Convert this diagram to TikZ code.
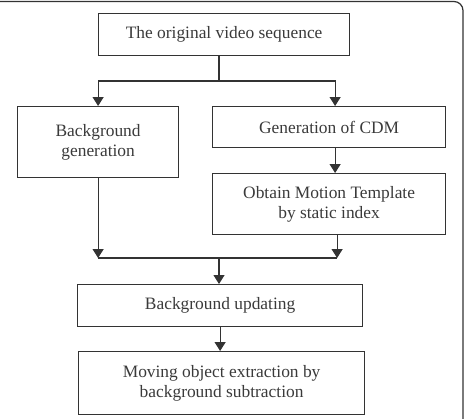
\documentclass[tikz,border=0pt]{standalone}
\usepackage{fontspec}
\setmainfont{Liberation Serif}
\usetikzlibrary{arrows.meta, positioning, calc}
\definecolor{flowline}{HTML}{333333}
\definecolor{flowtext}{HTML}{3A3A3A}
\tikzset{
  procbox/.style = {draw=flowline, line width=1.2pt, align=center, text=flowtext,
                    font=\fontsize{17.4}{20}\selectfont, inner sep=2pt, anchor=north west},
  flow/.style    = {-{Triangle[length=9pt, width=11pt]}, line width=1.2pt, draw=flowline},
  link/.style    = {line width=1.2pt, draw=flowline},
}

\begin{document}
\begin{tikzpicture}[x=1pt, y=-1pt]
        \useasboundingbox (0,0) rectangle (465,418);
        \draw[flowline, line width=1.2pt, rounded corners=9pt] (-20,1.5) -- (463,1.5) -- (463,440);
        \node[procbox, minimum width=251pt, minimum height=42pt] (orig)   at (98,13)  {The original video sequence};
        \node[procbox, minimum width=161pt, minimum height=71pt] (bggen)  at (17,106) {Background\\generation};
        \node[procbox, minimum width=233pt, minimum height=41pt] (cdm)    at (212,106) {Generation of CDM};
        \node[procbox, minimum width=233pt, minimum height=61pt] (motion) at (212,173) {Obtain Motion Template\\by static index};
        \node[procbox, minimum width=285pt, minimum height=42pt] (update) at (77,284)  {Background updating};
        \node[procbox, minimum width=286pt, minimum height=63pt] (moving) at (78,351)  {Moving object extraction by\\background subtraction};
        \coordinate (split) at (219,81);
        \coordinate (merge) at (219,258);
        \draw[link] (split |- orig.south) -- (split);
        \draw[flow] (split) -| (bggen.north);
        \draw[flow] (split) -| ([xshift=6pt]cdm.north);
        \draw[flow] ([xshift=6pt]cdm.south) -- ([xshift=6pt]motion.north);
        \draw[flow] (bggen.south) -- (bggen.south |- merge);
        \draw[flow] ([xshift=8pt]motion.south) -- ([xshift=8pt]motion.south |- merge);
        \draw[link] (bggen.south |- merge) -- ([xshift=8pt]motion.south |- merge);
        \draw[flow] (merge) -- (merge |- update.north);
        \draw[flow] (update.south) -- (update.south |- moving.north);
    \end{tikzpicture}
\end{document}
